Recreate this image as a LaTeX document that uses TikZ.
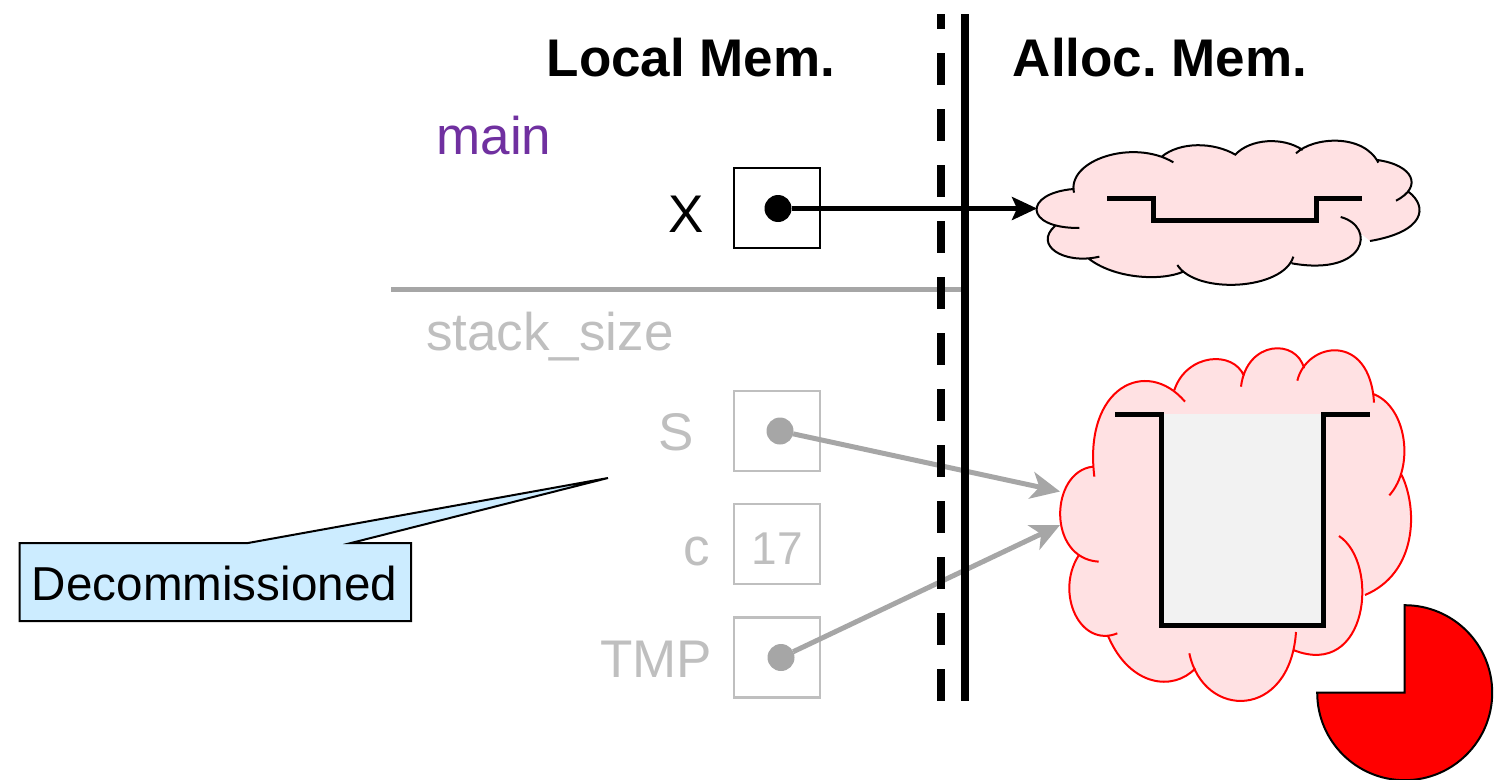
\documentclass[tikz,border=0pt]{standalone}
\usepackage{fontspec}
\setmainfont{Liberation Sans}
\usetikzlibrary{arrows.meta}
\definecolor{cloudpink}{HTML}{FFE1E3}
\definecolor{fadetext}{HTML}{BFBFBF}
\definecolor{fadeline}{HTML}{A6A6A6}
\definecolor{mainpurple}{HTML}{7030A0}
\definecolor{noteblue}{HTML}{CCECFF}
\definecolor{pitgrey}{HTML}{F2F2F2}
\tikzset{
  lbl/.style={inner sep=0pt,outer sep=0pt,anchor=base,font=\fontsize{53}{60}\selectfont},
  hdr/.style={lbl,font=\fontsize{53}{60}\selectfont\bfseries\frenchspacing},
  fade/.style={lbl,text=fadetext},
  cellbox/.style={draw,line width=2pt,minimum width=86pt,minimum height=80pt,inner sep=0pt,outer sep=0pt},
  fadecell/.style={cellbox,draw=fadetext,line width=2.5pt},
  dot/.style={circle,fill,minimum size=27pt,inner sep=0pt,outer sep=0pt},
  liveptr/.style={line width=4.5pt,-{Stealth[length=25pt,width=23pt,inset=5pt]}},
  deadptr/.style={line width=5pt,draw=fadeline,-{Stealth[length=29pt,width=27pt,inset=8pt]}},
  wall/.style={line width=5pt,line join=miter}
}
\def\cloudA#1{
 (178,324) .. controls (10,325) and (10,220) .. (160,207)
 #1 (162,218) .. controls (140,120) and (340,55) .. (460,127)
 #1 (425,110) .. controls (480,65) and (580,65) .. (648,105)
 #1 (645,105) .. controls (690,55) and (790,50) .. (848,90)
 #1 (828,100) .. controls (880,50) and (1030,40) .. (1075,128)
 #1 (1072,120) .. controls (1180,135) and (1210,200) .. (1128,242)
 #1 (1165,215) .. controls (1225,260) and (1215,335) .. (1050,363)
 #1 (962,291) .. controls (1070,320) and (1040,470) .. (815,430)
 #1 (820,410) .. controls (790,510) and (530,525) .. (472,435)
 #1 (490,455) .. controls (420,485) and (280,475) .. (205,415)
 #1 (238,410) .. controls (130,435) and (40,375) .. (105,318)
}
\def\cloudB#1{
 (176,665) .. controls (20,655) and (30,395) .. (158,380)
 #1 (163,410) .. controls (130,140) and (320,50) .. (435,185)
 #1 (403,150) .. controls (440,40) and (580,30) .. (612,108)
 #1 (603,140) .. controls (620,0) and (770,-5) .. (792,85)
 #1 (772,122) .. controls (800,5) and (990,-25) .. (1002,188)
 #1 (1000,162) .. controls (1100,200) and (1125,380) .. (1048,466)
 #1 (1085,405) .. controls (1135,510) and (1130,700) .. (975,765)
 #1 (897,588) .. controls (1020,670) and (985,1020) .. (760,930)
 #1 (768,876) .. controls (750,1140) and (490,1140) .. (448,940)
 #1 (466,985) .. controls (400,1055) and (270,1040) .. (205,890)
 #1 (232,880) .. controls (120,925) and (45,760) .. (115,648)
}
\begin{document}
\begin{tikzpicture}[x=1pt,y=-1pt]
\useasboundingbox (0,0) rectangle (1512,779);

% clouds
\begin{scope}[shift={(1020,120)},x=0.33333pt,y=-0.33333pt]
  \fill[cloudpink] \cloudA{--} -- cycle;
  \draw[black,line width=2pt] \cloudA{};
\end{scope}
\begin{scope}[shift={(1040,340)},x=0.33333pt,y=-0.33333pt]
  \fill[cloudpink] \cloudB{--} -- cycle;
  \draw[red,line width=2pt] \cloudB{};
\end{scope}

% contents of the clouds
\draw[wall] (1107.3,198.3) -- (1153.3,198.3) -- (1153.3,220.7) -- (1316,220.7) -- (1316,198.3) -- (1362,198.3);
\fill[pitgrey] (1161.7,414) rectangle (1323.3,625);
\draw[wall] (1115,414) -- (1161.7,414) -- (1161.7,625) -- (1323.3,625) -- (1323.3,414) -- (1369.7,414);

% pie
\draw[fill=red,line width=2pt] (1404.7,692.7) -- (1404.7,605.2) arc[start angle=90,end angle=-180,radius=87.5pt] -- cycle;

% headers and labels
\node[hdr] (hlocal) at (691,76) {Local Mem.};
\node[hdr] (halloc) at (1160,76) {Alloc. Mem.};
\node[lbl,text=mainpurple] (lmain) at (494,154) {main};
\node[lbl] (lx) at (686,232) {X};
\node[fade] (lstack) at (550,350) {stack\_size};
\node[fade] (ls) at (676,450) {S};
\node[fade] (lc) at (697,565) {c};
\node[fade] (ltmp) at (656,677) {TMP};

% cells
\node[cellbox] (bx) at (777,208) {};
\node[fadecell] (bs) at (777,431) {};
\node[fadecell] (bc) at (777,544) {};
\node[fadecell] (bt) at (777,657.5) {};
\node[lbl,text=fadetext,font=\fontsize{46}{54}\selectfont] (n17) at (777,564) {17};

% dots
\node[dot,black] (dx) at (778,208.5) {};
\node[dot,fadeline] (ds) at (780,431) {};
\node[dot,fadeline] (dt) at (781,657.5) {};

% free ends
\coordinate (ex) at (1037,208.5);
\coordinate (es) at (1060,491.5);
\coordinate (et) at (1060,525);
\coordinate (stackL) at (391,289);
\coordinate (stackR) at (962,289);
\coordinate (solidT) at (965,14);
\coordinate (solidB) at (965,701);
\coordinate (dashT) at (940.5,14);
\coordinate (dashB) at (940.5,701);

% faded connectors beneath the walls
\draw[line width=5pt,fadeline] (stackL) -- (stackR);
\draw[deadptr] (ds) -- (es);
\draw[deadptr] (dt) -- (et);

% walls
\draw[line width=8pt,dash pattern=on 32pt off 24pt,dash phase=17pt] (dashT) -- (dashB);
\draw[line width=8pt] (solidT) -- (solidB);

% live pointer
\draw[liveptr] (dx) -- (ex);

% callout
\draw[fill=noteblue,line width=2pt] (19.5,543) -- (248,543) -- (608,478) -- (351,543) -- (411,543) -- (411,621) -- (19.5,621) -- cycle;
\node[lbl,font=\fontsize{47.6}{54}\selectfont] (note) at (214.5,600) {Decommissioned};
\end{tikzpicture}
\end{document}
